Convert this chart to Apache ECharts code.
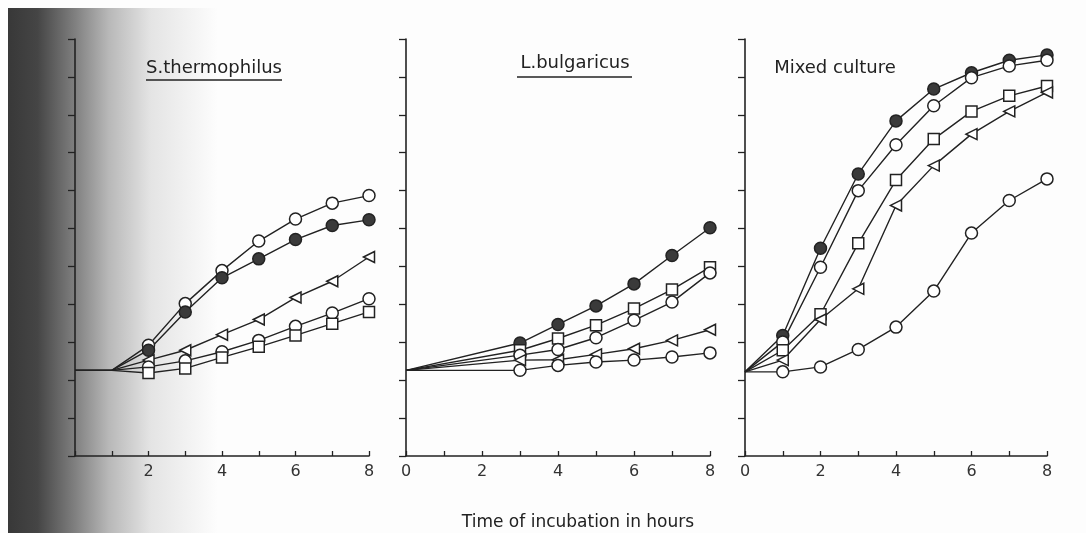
<!DOCTYPE html>
<html>
<head>
<meta charset="utf-8">
<script src="https://cdn.jsdelivr.net/npm/echarts@6/dist/echarts.min.js"></script>
<style>
html,body{margin:0;padding:0;background:#fdfdfd;}
#chart{width:1086px;height:533px;}
</style>
</head>
<body>
<div id="chart"></div>
<script>
// ---- data (y in axis units, one unit per y tick) ----
var panelTitles = ['S.thermophilus', 'L.bulgaricus', 'Mixed culture'];
var xTickLabels = ['0', '1', '2', '3', '4', '5', '6', '7', '8'];

// Panel 1: S. thermophilus
var p1Hours = [0, 1, 2, 3, 4, 5, 6, 7, 8];
var p1OpenCircleA = [2.26, 2.26, 2.92, 4.02, 4.89, 5.67, 6.25, 6.67, 6.87];
var p1Filled      = [2.26, 2.26, 2.79, 3.80, 4.70, 5.20, 5.71, 6.08, 6.23];
var p1Triangle    = [2.26, 2.26, 2.53, 2.79, 3.20, 3.60, 4.18, 4.61, 5.25];
var p1OpenCircleB = [2.26, 2.26, 2.35, 2.51, 2.75, 3.05, 3.42, 3.77, 4.15];
var p1Square      = [2.26, 2.26, 2.19, 2.31, 2.60, 2.88, 3.18, 3.49, 3.80];

// Panel 2: L. bulgaricus
var p2Hours = [0, 3, 4, 5, 6, 7, 8];
var p2Filled      = [2.26, 2.98, 3.47, 3.96, 4.54, 5.29, 6.02];
var p2Square      = [2.26, 2.79, 3.10, 3.45, 3.89, 4.39, 4.98];
var p2OpenCircleA = [2.26, 2.66, 2.81, 3.12, 3.58, 4.06, 4.83];
var p2Triangle    = [2.26, 2.53, 2.54, 2.68, 2.83, 3.05, 3.33];
var p2OpenCircleB = [2.26, 2.26, 2.39, 2.48, 2.53, 2.61, 2.72];

// Panel 3: Mixed culture
var p3Hours = [0, 1, 2, 3, 4, 5, 6, 7, 8];
var p3Filled      = [2.22, 3.18, 5.48, 7.44, 8.84, 9.68, 10.11, 10.44, 10.58];
var p3OpenCircleA = [2.22, 3.01, 4.98, 7.00, 8.21, 9.24, 9.98, 10.29, 10.44];
var p3Square      = [2.22, 2.79, 3.74, 5.61, 7.28, 8.36, 9.09, 9.50, 9.76];
var p3Triangle    = [2.22, 2.53, 3.60, 4.41, 6.61, 7.66, 8.49, 9.09, 9.59];
var p3OpenCircleB = [2.22, 2.22, 2.35, 2.81, 3.40, 4.35, 5.88, 6.74, 7.31];

// ---- build chart ----
var INK = '#222';
function pts(hours, vals, hiddenBefore) {
  return hours.map(function (h, i) {
    var item = { value: [h, vals[i]] };
    if (h < hiddenBefore) item.symbol = 'none';
    return item;
  });
}
var markers = {
  open:   { symbol: 'circle', symbolSize: 12, fill: '#fff', rot: 0 },
  filled: { symbol: 'circle', symbolSize: 12, fill: '#3a3a3a', rot: 0 },
  square: { symbol: 'rect', symbolSize: 11, fill: '#fff', rot: 0 },
  tri:    { symbol: 'triangle', symbolSize: 11, fill: '#fff', rot: 90 }
};
function mk(idx, hours, vals, kind, hiddenBefore) {
  var m = markers[kind];
  return {
    type: 'line', xAxisIndex: idx, yAxisIndex: idx,
    data: pts(hours, vals, hiddenBefore),
    symbol: m.symbol, symbolSize: m.symbolSize, symbolRotate: m.rot,
    showAllSymbol: true,
    lineStyle: { color: INK, width: 1.4 },
    itemStyle: { color: m.fill, borderColor: INK, borderWidth: 1.5 },
    emphasis: { disabled: true },
    z: 3
  };
}
var series = [
  mk(0, p1Hours, p1OpenCircleA, 'open', 1.5),
  mk(0, p1Hours, p1Filled, 'filled', 1.5),
  mk(0, p1Hours, p1Triangle, 'tri', 1.5),
  mk(0, p1Hours, p1OpenCircleB, 'open', 1.5),
  mk(0, p1Hours, p1Square, 'square', 1.5),
  mk(1, p2Hours, p2Filled, 'filled', 0.5),
  mk(1, p2Hours, p2Square, 'square', 0.5),
  mk(1, p2Hours, p2OpenCircleA, 'open', 0.5),
  mk(1, p2Hours, p2Triangle, 'tri', 0.5),
  mk(1, p2Hours, p2OpenCircleB, 'open', 0.5),
  mk(2, p3Hours, p3Filled, 'filled', 0.5),
  mk(2, p3Hours, p3OpenCircleA, 'open', 0.5),
  mk(2, p3Hours, p3Square, 'square', 0.5),
  mk(2, p3Hours, p3Triangle, 'tri', 0.5),
  mk(2, p3Hours, p3OpenCircleB, 'open', 0.5)
];

var grids = [
  { left: 75, right: 717, top: 39, bottom: 77 },
  { left: 406, right: 376, top: 39, bottom: 77 },
  { left: 745, right: 39, top: 39, bottom: 77 }
];
function xAx(idx, hideZero) {
  return {
    type: 'value', gridIndex: idx, min: 0, max: 8, interval: 1,
    axisLine: { lineStyle: { color: INK, width: 1.6 } },
    axisTick: { inside: true, length: 5, lineStyle: { color: INK, width: 1.3 } },
    splitLine: { show: false },
    axisLabel: {
      color: '#333', fontSize: 16, fontFamily: 'DejaVu Sans', margin: 8,
      formatter: function (v) {
        if (v % 2 !== 0) return '';
        if (hideZero && v === 0) return '';
        return xTickLabels[v];
      }
    }
  };
}
function yAx(idx) {
  return {
    type: 'value', gridIndex: idx, min: 0, max: 11, interval: 1,
    axisLine: { show: true, lineStyle: { color: INK, width: 1.6 } },
    axisTick: { show: true, inside: false, length: 7, lineStyle: { color: INK, width: 1.3 } },
    splitLine: { show: false },
    axisLabel: { show: false }
  };
}

var titleFont = '18px "DejaVu Sans"';
var option = {
  animation: false,
  backgroundColor: '#fdfdfd',
  grid: grids,
  xAxis: [xAx(0, true), xAx(1, false), xAx(2, false)],
  yAxis: [yAx(0), yAx(1), yAx(2)],
  series: series,
  graphic: [
    {
      type: 'rect', z: -10, silent: true,
      shape: { x: 8, y: 8, width: 210, height: 525 },
      style: {
        fill: {
          type: 'linear', x: 0, y: 0, x2: 1, y2: 0,
          colorStops: [
            { offset: 0, color: '#383838' },
            { offset: 0.14, color: '#454545' },
            { offset: 0.32, color: '#808080' },
            { offset: 0.48, color: '#b8b8b8' },
            { offset: 0.68, color: '#e4e4e4' },
            { offset: 1, color: '#fdfdfd' }
          ]
        }
      }
    },
    { type: 'text', z: 10, style: { text: panelTitles[0], x: 214, y: 68, textAlign: 'center', textVerticalAlign: 'middle', font: titleFont, fill: INK } },
    { type: 'line', z: 10, shape: { x1: 146, y1: 80, x2: 282, y2: 80 }, style: { stroke: INK, lineWidth: 1.6 } },
    { type: 'text', z: 10, style: { text: panelTitles[1], x: 575, y: 63, textAlign: 'center', textVerticalAlign: 'middle', font: titleFont, fill: INK } },
    { type: 'line', z: 10, shape: { x1: 517, y1: 77, x2: 632, y2: 77 }, style: { stroke: INK, lineWidth: 1.6 } },
    { type: 'text', z: 10, style: { text: panelTitles[2], x: 835, y: 68, textAlign: 'center', textVerticalAlign: 'middle', font: titleFont, fill: INK } },
    { type: 'text', z: 10, style: { text: 'Time of incubation in hours', x: 578, y: 523, textAlign: 'center', textVerticalAlign: 'middle', font: '17px "DejaVu Sans"', fill: INK } }
  ]
};
var chart = echarts.init(document.getElementById('chart'), null, { renderer: 'canvas' });
chart.setOption(option);
</script>
</body>
</html>
